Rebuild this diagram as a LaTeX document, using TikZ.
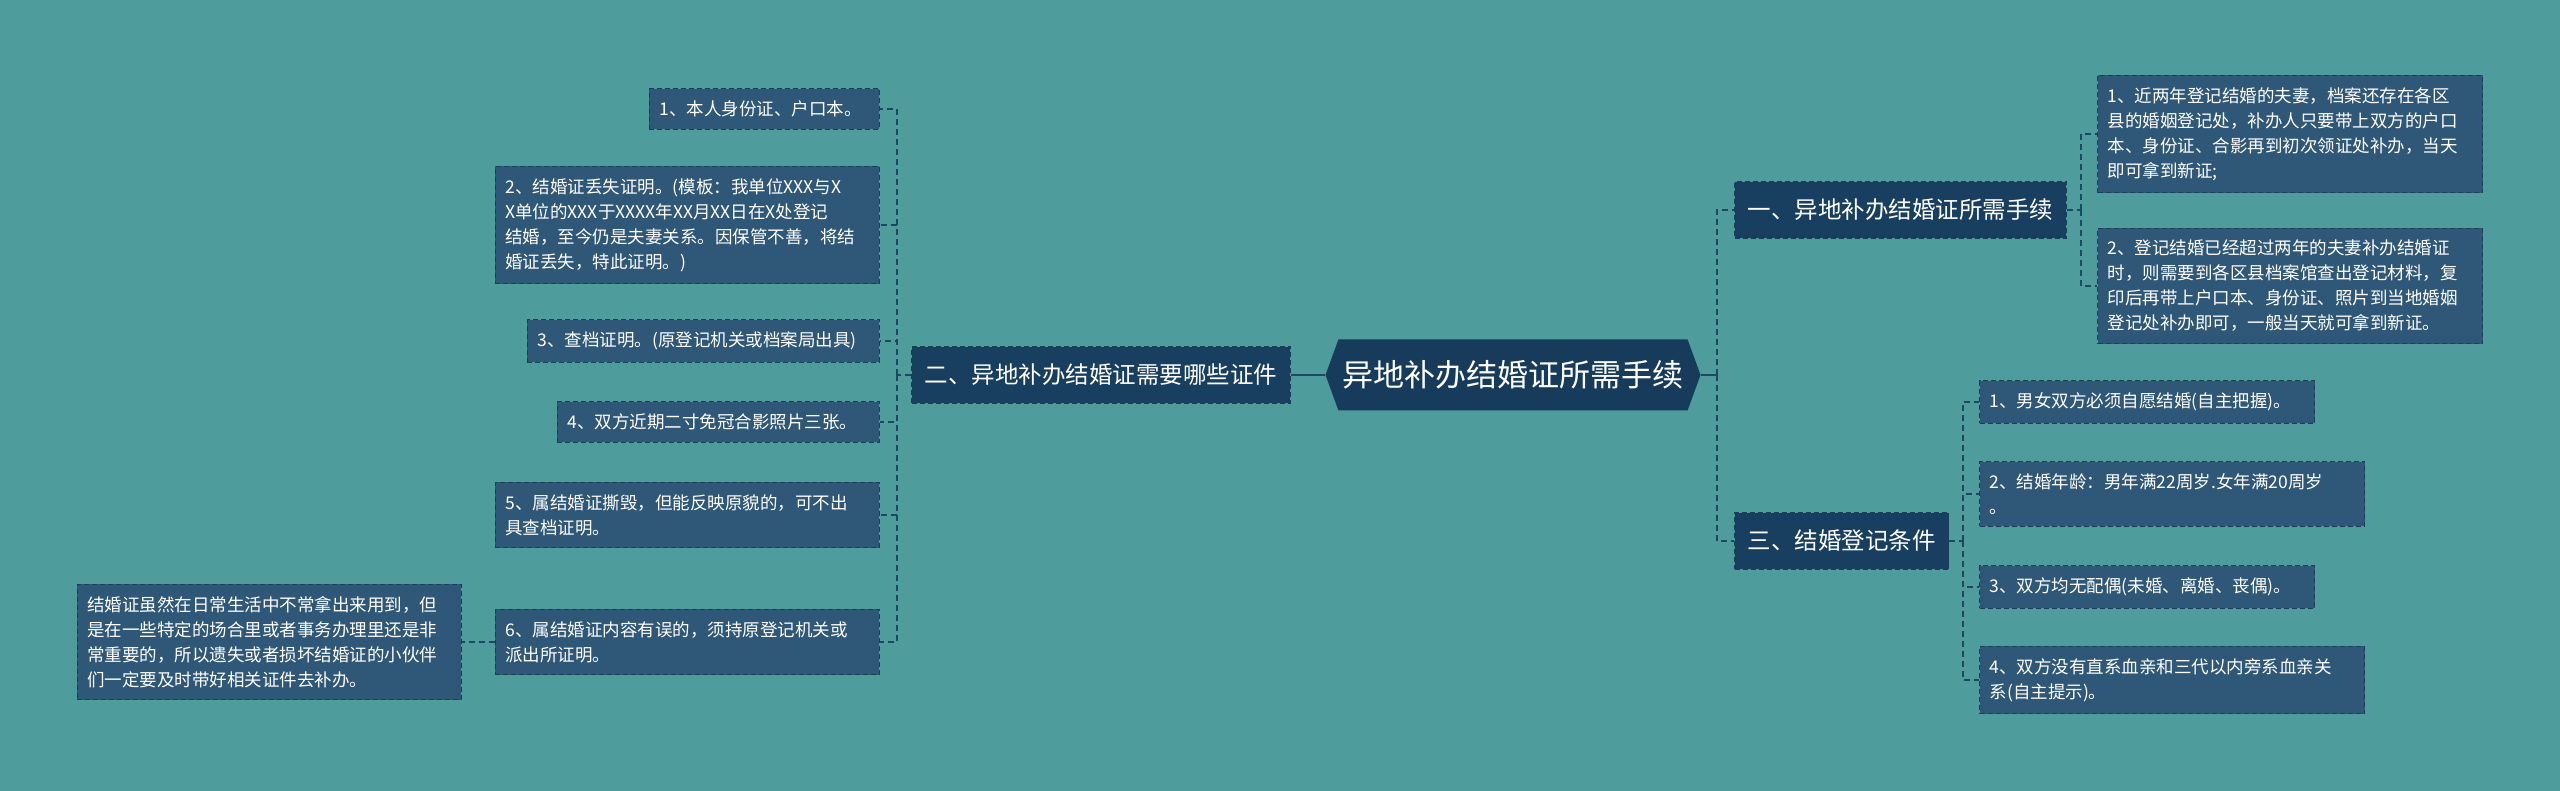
\documentclass[tikz,border=0pt]{standalone}
\usepackage{fontspec}
\setmainfont{Noto Sans CJK SC}
\usetikzlibrary{shapes.symbols}
\definecolor{bgcol}{HTML}{4F9C9C}
\definecolor{rootcol}{HTML}{173B5A}
\definecolor{branchcol}{HTML}{183F5F}
\definecolor{leafcol}{HTML}{2F5777}
\definecolor{edgecol}{HTML}{1B3D58}
\definecolor{linecol}{HTML}{1E4862}

\begin{document}
\begin{tikzpicture}[x=1pt,y=-1pt]
    \fill[bgcol] (0,0) rectangle (2560,791);
    \useasboundingbox (0,0) rectangle (2560,791);

    \begin{scope}[
        every node/.style = {text=white, align=left},
        leaf/.style = {draw=edgecol, dash pattern=on 5pt off 3pt, line width=1.2pt, fill=leafcol,
            font=\fontsize{17.5}{25}\selectfont, inner xsep=10pt, inner ysep=12pt},
        branch/.style = {draw=edgecol, dash pattern=on 5pt off 3pt, line width=1.2pt, fill=branchcol,
            font=\fontsize{23.5}{28}\selectfont, inner xsep=13pt, minimum height=56pt}]
        \node[shape=signal, signal to=west and east, signal pointer angle=140, fill=rootcol,
            font=\fontsize{31}{36}\selectfont, minimum width=375pt, minimum height=71pt,
            inner sep=0pt] (M) at (1513,375) {异地补办结婚证所需手续};

        \node[branch, anchor=east] (B2) at (1291,375) {二、异地补办结婚证需要哪些证件};
        \node[branch, anchor=west] (B1) at (1734,210) {一、异地补办结婚证所需手续};
        \node[branch, anchor=west] (B3) at (1734,541) {三、结婚登记条件};

        \node[leaf, anchor=east, text width=210pt] (L1) at (880,109) {1、本人身份证、户口本。};
        \node[leaf, anchor=east, text width=364pt] (L2) at (880,225) {2、结婚证丢失证明。(模板：我单位XXX与X\\X单位的XXX于XXXX年XX月XX日在X处登记\\结婚，至今仍是夫妻关系。因保管不善，将结\\婚证丢失，特此证明。)};
        \node[leaf, anchor=east, text width=332pt] (L3) at (880,341) {3、查档证明。(原登记机关或档案局出具)};
        \node[leaf, anchor=east, text width=302pt] (L4) at (880,422) {4、双方近期二寸免冠合影照片三张。};
        \node[leaf, anchor=east, text width=364pt] (L5) at (880,515) {5、属结婚证撕毁，但能反映原貌的，可不出\\具查档证明。};
        \node[leaf, anchor=east, text width=364pt] (L6) at (880,642) {6、属结婚证内容有误的，须持原登记机关或\\派出所证明。};
        \node[leaf, anchor=east, text width=364pt] (F) at (462,642) {结婚证虽然在日常生活中不常拿出来用到，但\\是在一些特定的场合里或者事务办理里还是非\\常重要的，所以遗失或者损坏结婚证的小伙伴\\们一定要及时带好相关证件去补办。};

        \node[leaf, anchor=west, text width=365pt] (R1) at (2097,134) {1、近两年登记结婚的夫妻，档案还存在各区\\县的婚姻登记处，补办人只要带上双方的户口\\本、身份证、合影再到初次领证处补办，当天\\即可拿到新证;};
        \node[leaf, anchor=west, text width=365pt] (R2) at (2097,286) {2、登记结婚已经超过两年的夫妻补办结婚证\\时，则需要到各区县档案馆查出登记材料，复\\印后再带上户口本、身份证、照片到当地婚姻\\登记处补办即可，一般当天就可拿到新证。};

        \node[leaf, anchor=west, text width=315pt] (S1) at (1979,402) {1、男女双方必须自愿结婚(自主把握)。};
        \node[leaf, anchor=west, text width=365pt] (S2) at (1979,494) {2、结婚年龄：男年满22周岁.女年满20周岁\\。};
        \node[leaf, anchor=west, text width=315pt] (S3) at (1979,587) {3、双方均无配偶(未婚、离婚、丧偶)。};
        \node[leaf, anchor=west, text width=365pt] (S4) at (1979,680) {4、双方没有直系血亲和三代以内旁系血亲关\\系(自主提示)。};
    \end{scope}

    \begin{scope}[
        link/.style = {draw=linecol, line width=1.5pt, dash pattern=on 6pt off 4pt},
        trunk/.style = {draw=linecol, line width=2.5pt}]
        \coordinate (lb) at (897,375);
        \coordinate (rb) at (1717,375);
        \coordinate (ab) at (2081,210);
        \coordinate (cb) at (1963,541);

        \path [trunk] (M.west) -- (B2.east);
        \path [trunk] (M.east) -- (rb);
        \path [link] (rb) |- (B1.west);
        \path [link] (rb) |- (B3.west);

        \path [link] (B2.west) -- (lb);
        \foreach \i in {1,...,6} \path [link] (lb) |- (L\i.east);
        \path [link] (L6.west) -- (F.east);

        \path [link] (B1.east) -- (ab);
        \foreach \i in {1,2} \path [link] (ab) |- (R\i.west);

        \path [link] (B3.east) -- (cb);
        \foreach \i in {1,...,4} \path [link] (cb) |- (S\i.west);
    \end{scope}
\end{tikzpicture}
\end{document}
